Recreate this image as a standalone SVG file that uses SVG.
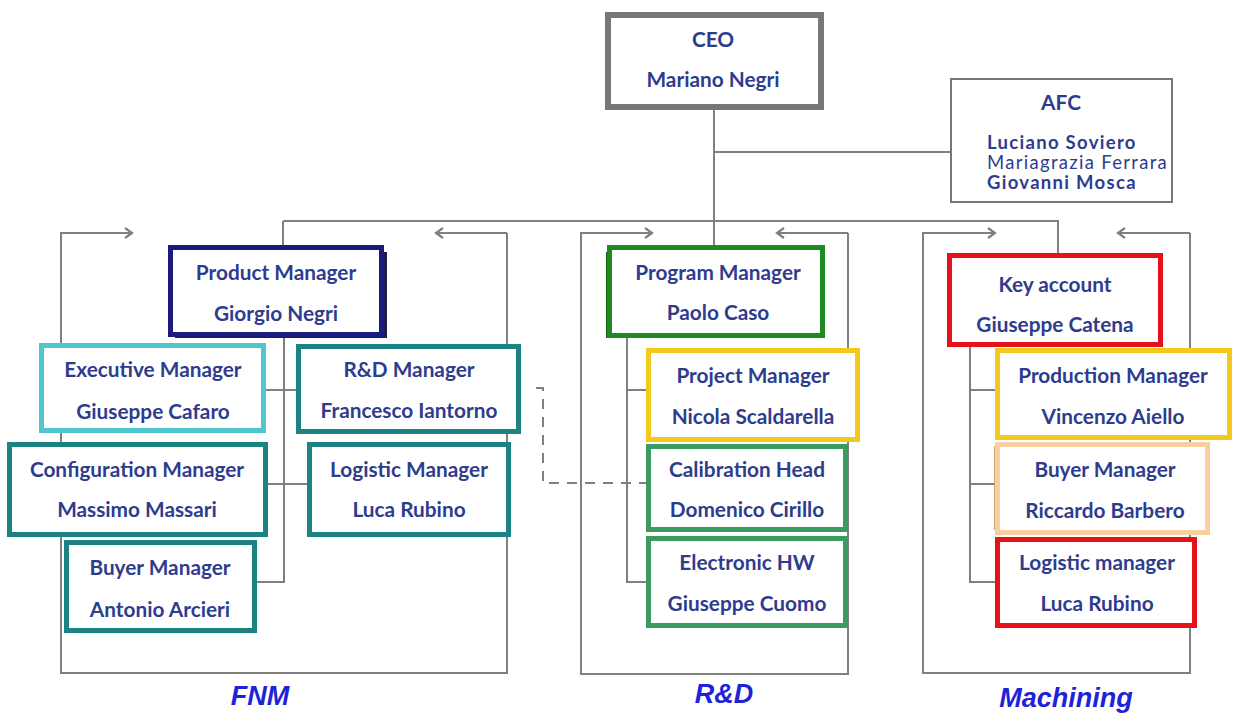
<svg xmlns="http://www.w3.org/2000/svg" width="1234" height="715" viewBox="0 0 1234 715">
<defs>
<marker id="arr" viewBox="0 0 12 12" refX="10" refY="6" markerWidth="12" markerHeight="12" markerUnits="userSpaceOnUse" orient="auto">
<path d="M3 1 L10 6 L3 11" fill="none" stroke="#7f7f7f" stroke-width="2.2"/>
</marker>
<style>
.ln{fill:none;stroke:#808080;stroke-width:2}
.dash{fill:none;stroke:#808080;stroke-width:2;stroke-dasharray:10 8}
.box{fill:#fff;stroke-width:5}
.t{font-family:Lato,"Open Sans","Liberation Sans",sans-serif;font-weight:700;font-size:20.8px;fill:#2E3C8E;text-anchor:middle}
.afc{font-family:Lato,"Open Sans","Liberation Sans",sans-serif;font-size:18.5px;letter-spacing:1.3px;fill:#2E3C8E}
.lab{font-family:"Liberation Sans",Arial,sans-serif;font-weight:bold;font-style:italic;font-size:27px;fill:#1E22D8;text-anchor:middle}
.gray{stroke:#777}
.navy{stroke:#1B1B7E}
.cyan{stroke:#4EC8CE}
.teal{stroke:#1C8282}
.green{stroke:#1E8A22}
.yellow{stroke:#F3C91C}
.sea{stroke:#3A9A60}
.red{stroke:#E5121A}
.peach{stroke:#F8CFA0}
</style>
</defs>
<rect width="1234" height="715" fill="#fff"/>

<g id="connectors">
<path class="ln" d="M714 110 V245"/>
<path class="ln" d="M714 152 H950"/>
<path class="ln" d="M283 221 H1058 V253"/>
<path class="ln" d="M283 221 V245"/>
<path class="ln" d="M507 233 V673 H61 V233 H132" marker-end="url(#arr)"/>
<path class="ln" d="M507 233 H436" marker-end="url(#arr)"/>
<path class="ln" d="M848 233 V674 H581 V233 H652" marker-end="url(#arr)"/>
<path class="ln" d="M848 233 H777" marker-end="url(#arr)"/>
<path class="ln" d="M1190 233 V673 H923 V233 H995" marker-end="url(#arr)"/>
<path class="ln" d="M1190 233 H1118" marker-end="url(#arr)"/>
<path class="ln" d="M284 337 V582 H257 M266 390 H296 M268 484 H307"/>
<path class="ln" d="M627 338 V582 H646 M627 390 H646"/>
<path class="ln" d="M970 347 V582 H995 M970 390 H995 M970 484 H995"/>
<path class="dash" d="M536 388 H543 V483 H646"/>
</g>

<g id="ceo">
<rect class="box gray" x="608" y="15" width="213" height="92" style="stroke-width:6"/>
<text class="t" x="713" y="47">CEO</text>
<text class="t" x="713" y="87">Mariano Negri</text>
</g>

<g id="afc">
<rect x="951" y="79" width="221" height="123" fill="#fff" stroke="#777" stroke-width="2"/>
<text class="t" x="1061" y="110">AFC</text>
<text class="afc" x="987" y="149" font-weight="700">Luciano Soviero</text>
<text class="afc" x="987" y="169" fill="#3A5AA8">Mariagrazia Ferrara</text>
<text class="afc" x="987" y="189" font-weight="700">Giovanni Mosca</text>
</g>

<g id="product-manager">
<rect x="175" y="252" width="212" height="86" fill="#1B1B50"/>
<rect class="box navy" x="170.5" y="247.5" width="211" height="87"/>
<text class="t" x="276" y="280">Product Manager</text>
<text class="t" x="276" y="321">Giorgio Negri</text>
</g>

<g id="executive-manager">
<rect class="box cyan" x="41.5" y="345.5" width="222" height="85"/>
<text class="t" x="153" y="377">Executive Manager</text>
<text class="t" x="153" y="419">Giuseppe Cafaro</text>
</g>

<g id="rd-manager">
<rect class="box teal" x="298.5" y="346.5" width="220" height="85"/>
<text class="t" x="409" y="377">R&amp;D Manager</text>
<text class="t" x="409" y="418">Francesco Iantorno</text>
</g>

<g id="configuration-manager">
<rect class="box teal" x="9.5" y="444.5" width="256" height="90"/>
<text class="t" x="137" y="477">Configuration Manager</text>
<text class="t" x="137" y="517">Massimo Massari</text>
</g>

<g id="logistic-manager-fnm">
<rect class="box teal" x="309.5" y="444.5" width="199" height="90"/>
<text class="t" x="409" y="477">Logistic Manager</text>
<text class="t" x="409" y="517">Luca Rubino</text>
</g>

<g id="buyer-manager-fnm">
<rect class="box teal" x="66.5" y="542.5" width="188" height="88"/>
<text class="t" x="160" y="575">Buyer Manager</text>
<text class="t" x="160" y="617">Antonio Arcieri</text>
</g>

<g id="program-manager">
<rect x="606" y="252" width="10" height="86" fill="#146614"/>
<rect class="box green" x="609.5" y="247.5" width="213" height="88"/>
<text class="t" x="718" y="280">Program Manager</text>
<text class="t" x="718" y="320">Paolo Caso</text>
</g>

<g id="project-manager">
<rect class="box yellow" x="648.5" y="350.5" width="209" height="89"/>
<text class="t" x="753" y="383">Project Manager</text>
<text class="t" x="753" y="424">Nicola Scaldarella</text>
</g>

<g id="calibration-head">
<rect class="box sea" x="648.5" y="446.5" width="197" height="83"/>
<text class="t" x="747" y="477">Calibration Head</text>
<text class="t" x="747" y="517">Domenico Cirillo</text>
</g>

<g id="electronic-hw">
<rect class="box sea" x="648.5" y="538.5" width="197" height="87"/>
<text class="t" x="747" y="570">Electronic HW</text>
<text class="t" x="747" y="611">Giuseppe Cuomo</text>
</g>

<g id="key-account">
<rect class="box red" x="949.5" y="255.5" width="211" height="89"/>
<text class="t" x="1055" y="292">Key account</text>
<text class="t" x="1055" y="332">Giuseppe Catena</text>
</g>

<g id="production-manager">
<rect class="box yellow" x="997.5" y="350.5" width="232" height="87"/>
<text class="t" x="1113" y="383">Production Manager</text>
<text class="t" x="1113" y="424">Vincenzo Aiello</text>
</g>

<g id="buyer-manager-machining">
<rect x="994" y="446" width="8" height="84" fill="#D9A56A"/>
<rect class="box peach" x="997.5" y="444.5" width="210" height="88"/>
<text class="t" x="1105" y="477">Buyer Manager</text>
<text class="t" x="1105" y="518">Riccardo Barbero</text>
</g>

<g id="logistic-manager-machining">
<rect class="box red" x="997.5" y="539.5" width="197" height="86"/>
<text class="t" x="1097" y="570">Logistic manager</text>
<text class="t" x="1097" y="611">Luca Rubino</text>
</g>

<g id="labels">
<text class="lab" x="260" y="705">FNM</text>
<text class="lab" x="724" y="703">R&amp;D</text>
<text class="lab" x="1066" y="707">Machining</text>
</g>
</svg>
